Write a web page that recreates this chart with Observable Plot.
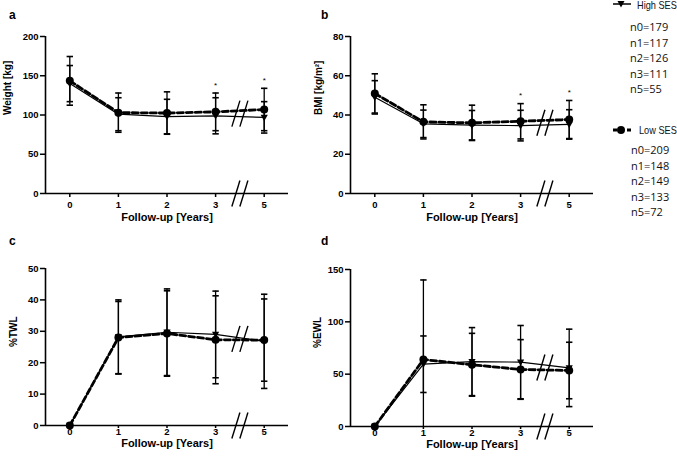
<!DOCTYPE html>
<html><head><meta charset="utf-8">
<script src="https://cdn.jsdelivr.net/npm/d3@7"></script>
<script src="https://cdn.jsdelivr.net/npm/@observablehq/plot@0.6"></script>
<style>
body{margin:0;background:#fff;}
#root{position:relative;width:677px;height:461px;overflow:hidden;font-family:"Liberation Sans",Arial,sans-serif;background:#fff;}
.panel{position:absolute;}
.letter{position:absolute;font-weight:bold;font-size:12px;line-height:12px;}
.nval{position:absolute;font-family:"Open Sans",sans-serif;font-size:11px;line-height:15.5px;color:#111;white-space:nowrap;}
.legname{position:absolute;font-family:"Liberation Sans",Arial,sans-serif;font-size:11.5px;line-height:12px;color:#111;white-space:nowrap;transform:scaleX(0.8);transform-origin:0 50%;}
.legsym{position:absolute;}
</style></head><body><div id="root"></div>
<script>
// x positions (5 years plotted at position 4 after the axis break)
const positions = [0, 1, 2, 3, 4];
const yearLabels = ["0", "1", "2", "3", "5"];

// Panel a: Weight [kg]
const weightHigh   = [140, 101, 98, 99, 97];
const weightHighSd = [23, 21, 22, 23, 20];
const weightLow    = [143.5, 103, 102.5, 104, 107];
const weightLowSd  = [31, 25, 27, 24, 27];

// Panel b: BMI [kg/m²]
const bmiHigh   = [49, 35.5, 34.8, 34.6, 35.2];
const bmiHighSd = [8.5, 7, 7.5, 7.8, 7.5];
const bmiLow    = [51, 36.5, 36, 36.8, 37.7];
const bmiLowSd  = [10, 8.7, 9, 9, 9.7];

// Panel c: %TWL
const twlHigh   = [0, 28.2, 29.7, 29.0, 26.8];
const twlHighSd = [0, 11.8, 13.8, 13.8, 15];
const twlLow    = [0, 28, 29.3, 27.3, 27.2];
const twlLowSd  = [0, 11.5, 13.6, 14, 13.1];

// Panel d: %EWL
const ewlHigh   = [0, 59.5, 62, 61.5, 56];
const ewlHighSd = [0, 27, 32.5, 35, 37];
const ewlLow    = [0, 64, 59, 54.5, 53.5];
const ewlLowSd  = [0, 76, 30, 28.5, 27];

// significance markers (positions)
const starsWeight = [3, 4];
const starsBmi = [3, 4];

// legend
const seriesNames = ["High SES", "Low SES"];
const nHigh = ["n0=179", "n1=117", "n2=126", "n3=111", "n5=55"];
const nLow  = ["n0=209", "n1=148", "n2=149", "n3=133", "n5=72"];

const triDown = {draw(ctx, size) {
  const r = Math.sqrt(size / Math.PI);
  ctx.moveTo(-r, -r * 0.75); ctx.lineTo(r, -r * 0.75); ctx.lineTo(0, r * 1.05); ctx.closePath();
}};
const capSym = {draw(ctx, size) {
  const r = Math.sqrt(size / Math.PI);
  ctx.moveTo(-r, 0); ctx.lineTo(r, 0);
}};
const slashSym = {draw(ctx, size) {
  const r = Math.sqrt(size / Math.PI);
  ctx.moveTo(-0.31 * r, r); ctx.lineTo(0.31 * r, -r);
}};

function panel(cfg) {
  const rows = [];
  positions.forEach((x, i) => {
    rows.push({s: "High", x, y: cfg.high[i], lo: cfg.high[i] - cfg.highSd[i], hi: cfg.high[i] + cfg.highSd[i]});
    rows.push({s: "Low", x, y: cfg.low[i], lo: cfg.low[i] - cfg.lowSd[i], hi: cfg.low[i] + cfg.lowSd[i]});
  });
  const highRows = rows.filter(d => d.s === "High");
  const lowRows = rows.filter(d => d.s === "Low");
  const breakX = (positions[3] + positions[4]) / 2;
  const breakY = d3.mean([cfg.high[3], cfg.high[4], cfg.low[3], cfg.low[4]]);
  const starRows = cfg.stars.map(p => ({x: p, y: d3.max(rows.filter(d => d.x === p), d => d.hi)}));
  const y0 = cfg.domain[0];
  const chart = Plot.plot({
    width: 300, height: 223,
    marginLeft: 45, marginRight: 12, marginTop: 36, marginBottom: 30,
    style: {fontFamily: "Liberation Sans, Arial, sans-serif", fontWeight: "bold", fontSize: "9.5px", color: "#000", background: "transparent"},
    x: {domain: [-0.5, 4.5]},
    y: {domain: cfg.domain},
    marks: [
      Plot.axisY({ticks: cfg.ticks, tickSize: 5, tickPadding: 2, label: null, strokeWidth: 1.5, fontWeight: "bold", fontSize: 9.5}),
      Plot.axisX({ticks: positions, tickFormat: i => yearLabels[i], tickSize: cfg.xTick, tickPadding: cfg.xPad, label: null, strokeWidth: 1.5, fontWeight: "bold", fontSize: 9.5}),
      Plot.ruleX([-0.5], {strokeWidth: 1.6}),
      Plot.ruleY([y0], {strokeWidth: 1.6}),
      Plot.ruleX(rows, {x: "x", y1: "lo", y2: "hi", strokeWidth: 1.3, clip: true}),
      Plot.dot(rows, {x: "x", y: "hi", symbol: capSym, r: 3.2, stroke: "black", strokeWidth: 1.6, fill: "none", clip: true}),
      Plot.dot(rows, {x: "x", y: "lo", symbol: capSym, r: 3.2, stroke: "black", strokeWidth: 1.6, fill: "none", clip: true}),
      Plot.line(highRows, {x: "x", y: "y", stroke: "black", strokeWidth: 1.2}),
      Plot.line(lowRows, {x: "x", y: "y", stroke: "black", strokeWidth: 2.8, strokeDasharray: "6,3"}),
      Plot.dot(highRows, {x: "x", y: "y", symbol: triDown, r: 3.6, fill: "black", stroke: "none"}),
      Plot.dot(lowRows, {x: "x", y: "y", r: 4, fill: "black", stroke: "none"}),
      Plot.dot([{x: breakX, y: breakY}], {x: "x", y: "y", symbol: slashSym, r: 13, stroke: "black", strokeWidth: 1.4, dx: -4}),
      Plot.dot([{x: breakX, y: breakY}], {x: "x", y: "y", symbol: slashSym, r: 13, stroke: "black", strokeWidth: 1.4, dx: 4}),
      Plot.dot([{x: breakX, y: y0}], {x: "x", y: "y", symbol: slashSym, r: 13, stroke: "black", strokeWidth: 1.4, dx: -4}),
      Plot.dot([{x: breakX, y: y0}], {x: "x", y: "y", symbol: slashSym, r: 13, stroke: "black", strokeWidth: 1.4, dx: 4}),
      Plot.text(starRows, {x: "x", y: "y", text: () => "*", dy: -8, fontSize: 8, fontWeight: "normal"}),
      Plot.text([cfg.label], {text: d => d, frameAnchor: "left", rotate: -90, dx: cfg.labelDx, fontSize: 10, fontWeight: "bold"}),
      Plot.text(["Follow-up [Years]"], {text: d => d, frameAnchor: "bottom", dy: cfg.titleDy, fontSize: 11, fontWeight: "bold"})
    ]
  });
  chart.classList.add("panel");
  chart.style.left = cfg.left + "px";
  chart.style.top = cfg.top + "px";
  return chart;
}

const root = document.getElementById("root");
root.appendChild(panel({high: weightHigh, highSd: weightHighSd, low: weightLow, lowSd: weightLowSd,
  domain: [0, 200], ticks: [0, 50, 100, 150, 200], label: "Weight [kg]", labelDx: -38, stars: starsWeight,
  xTick: 4, xPad: 4, titleDy: 27.5, left: 0, top: 0}));
root.appendChild(panel({high: bmiHigh, highSd: bmiHighSd, low: bmiLow, lowSd: bmiLowSd,
  domain: [0, 80], ticks: [0, 20, 40, 60, 80], label: "BMI [kg/m²]", labelDx: -32, stars: starsBmi,
  xTick: 4, xPad: 4, titleDy: 27.5, left: 305, top: 0}));
root.appendChild(panel({high: twlHigh, highSd: twlHighSd, low: twlLow, lowSd: twlLowSd,
  domain: [0, 50], ticks: [0, 10, 20, 30, 40, 50], label: "%TWL", labelDx: -32, stars: [],
  xTick: 3, xPad: 0, titleDy: 21.5, left: 0, top: 232}));
root.appendChild(panel({high: ewlHigh, highSd: ewlHighSd, low: ewlLow, lowSd: ewlLowSd,
  domain: [0, 150], ticks: [0, 50, 100, 150], label: "%EWL", labelDx: -33, stars: [],
  xTick: 3, xPad: 0, titleDy: 21.5, left: 305, top: 233}));

// panel letters
[["a", 9, 9], ["b", 321, 9], ["c", 9, 235], ["d", 321, 235]].forEach(([t, x, y]) => {
  const el = document.createElement("div");
  el.className = "letter"; el.textContent = t; el.style.left = x + "px"; el.style.top = y + "px";
  root.appendChild(el);
});

// legend
function legendSym(kind, x, y) {
  const ns = "http://www.w3.org/2000/svg";
  const svg = document.createElementNS(ns, "svg");
  svg.setAttribute("width", 22); svg.setAttribute("height", 12);
  svg.setAttribute("class", "legsym");
  svg.style.left = x + "px"; svg.style.top = (y - 6) + "px";
  const line = document.createElementNS(ns, "line");
  line.setAttribute("x1", 1); line.setAttribute("x2", 19); line.setAttribute("y1", 6); line.setAttribute("y2", 6);
  line.setAttribute("stroke", "black");
  if (kind === "High") {
    line.setAttribute("stroke-width", 1.5);
    svg.appendChild(line);
    const p = document.createElementNS(ns, "path");
    p.setAttribute("d", "M5.5,3 L12.5,3 L9,9.5 Z"); p.setAttribute("fill", "black");
    svg.appendChild(p);
  } else {
    line.setAttribute("stroke-width", 3); line.setAttribute("stroke-dasharray", "4,3");
    svg.appendChild(line);
    const c = document.createElementNS(ns, "circle");
    c.setAttribute("cx", 9); c.setAttribute("cy", 6); c.setAttribute("r", 4); c.setAttribute("fill", "black");
    svg.appendChild(c);
  }
  root.appendChild(svg);
}
function legendText(cls, text, x, yc) {
  const el = document.createElement("div");
  el.className = cls; el.textContent = text;
  el.style.left = x + "px"; el.style.top = (yc - 7) + "px";
  root.appendChild(el);
  return el;
}
legendSym("High", 612, 4);
legendText("legname", seriesNames[0], 637, 6);
nHigh.forEach((t, i) => legendText("nval", t, 630, 26 + i * 15.5));
legendSym("Low", 612, 130);
legendText("legname", seriesNames[1], 639, 131);
nLow.forEach((t, i) => legendText("nval", t, 631, 149 + i * 15.5));
</script>
</body></html>
